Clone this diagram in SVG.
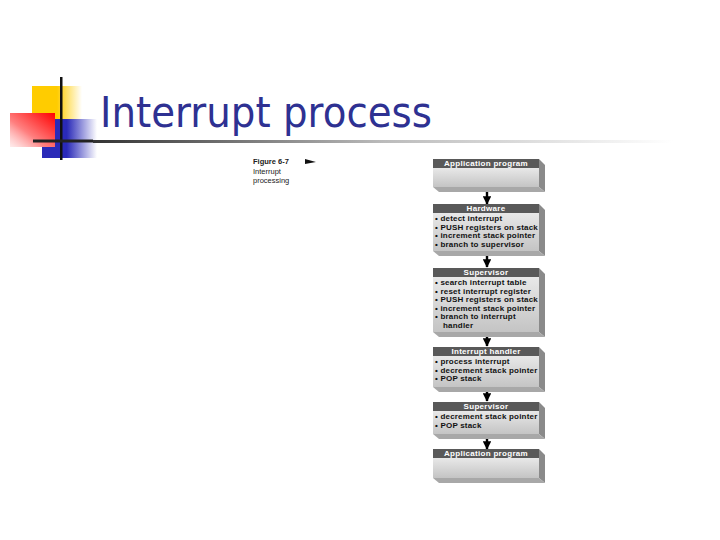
<svg xmlns="http://www.w3.org/2000/svg" width="720" height="540" viewBox="0 0 720 540">
<defs>
<linearGradient id="yel" x1="0" y1="0" x2="1" y2="0"><stop offset="0" stop-color="#ffcc00"/><stop offset="0.5" stop-color="#ffcc00"/><stop offset="1" stop-color="#ffcc00" stop-opacity="0"/></linearGradient>
<linearGradient id="blu" x1="0" y1="0" x2="1" y2="0"><stop offset="0" stop-color="#2a2ab8"/><stop offset="0.45" stop-color="#2a2ab8"/><stop offset="1" stop-color="#2a2ab8" stop-opacity="0"/></linearGradient>
<linearGradient id="red" x1="1" y1="0" x2="0" y2="1"><stop offset="0" stop-color="#ff0000"/><stop offset="0.6" stop-color="#ff8080"/><stop offset="1" stop-color="#ffe0e0" stop-opacity="0.6"/></linearGradient>
<linearGradient id="rule" x1="0" y1="0" x2="1" y2="0"><stop offset="0" stop-color="#333333"/><stop offset="0.5" stop-color="#bbbbbb"/><stop offset="1" stop-color="#ffffff"/></linearGradient>
<linearGradient id="body" x1="0" y1="0" x2="0" y2="1"><stop offset="0" stop-color="#e8e8e8"/><stop offset="1" stop-color="#c4c4c4"/></linearGradient>
<marker id="ah" viewBox="0 0 10 10" refX="9" refY="5" markerWidth="3.6" markerHeight="3.6" orient="auto"><path d="M0,0 L10,5 L0,10 z" fill="#000"/></marker>
</defs>
<style>
.title{font-family:"DejaVu Sans",sans-serif;font-size:42px;fill:#2e3192}
.hdr{fill:#595959}
.side{fill:#8a8a8a}
.bot{fill:#a8a8a8}
.body{fill:url(#body)}
.ht{font-family:"Liberation Sans",Arial,sans-serif;font-weight:bold;font-size:8px;letter-spacing:0.3px;fill:#fff;text-anchor:middle}
.bt{font-family:"Liberation Sans",Arial,sans-serif;font-weight:bold;font-size:8px;letter-spacing:0.2px;fill:#111}
.cap{font-family:"Liberation Sans",Arial,sans-serif;font-size:7.5px;fill:#222}
.conn line{stroke:#000;stroke-width:2.4}
</style>
<g id="logo">
<rect x="32" y="86" width="50" height="33" fill="url(#yel)"/>
<rect x="42" y="119" width="55" height="39" fill="url(#blu)"/>
<rect x="10" y="113" width="45" height="34" fill="url(#red)"/>
<rect x="60" y="77" width="2.5" height="83" fill="#111"/>
<rect x="33" y="139.5" width="60" height="3" fill="#222"/>
<rect x="93" y="140" width="580" height="3" fill="url(#rule)"/>
</g>
<text class="title" x="100" y="127" textLength="332" lengthAdjust="spacingAndGlyphs">Interrupt process</text>
<g id="caption">
<text class="cap" x="253" y="164" font-weight="bold">Figure 6-7</text>
<path d="M305,159 L316,162 L305,164 z" fill="#111"/>
<text class="cap" x="253" y="174">Interrupt</text>
<text class="cap" x="253" y="183">processing</text>
</g>
<g class="conn" id="connectors">
<line x1="487" y1="188" x2="487" y2="204" marker-end="url(#ah)"/>
<line x1="487" y1="252" x2="487" y2="267" marker-end="url(#ah)"/>
<line x1="487" y1="333" x2="487" y2="346" marker-end="url(#ah)"/>
<line x1="487" y1="388" x2="487" y2="401" marker-end="url(#ah)"/>
<line x1="487" y1="435" x2="487" y2="449" marker-end="url(#ah)"/>
</g>
<g id="n1">
<path class="side" d="M539,159 L545,165 L545,192 L539,187 z"/>
<path class="bot" d="M433,187 L539,187 L545,192 L439,192 z"/>
<rect class="body" x="433" y="168" width="106" height="19"/>
<rect class="hdr" x="433" y="159" width="106" height="9"/>
<text class="ht" x="486" y="166.2">Application program</text>
</g>
<g id="n2">
<path class="side" d="M539,204 L545,210 L545,256 L539,251 z"/>
<path class="bot" d="M433,251 L539,251 L545,256 L439,256 z"/>
<rect class="body" x="433" y="213" width="106" height="38"/>
<rect class="hdr" x="433" y="204" width="106" height="9"/>
<text class="ht" x="486" y="211.2">Hardware</text>
<text class="bt" x="435" y="221">• detect interrupt</text>
<text class="bt" x="435" y="229.5">• PUSH registers on stack</text>
<text class="bt" x="435" y="238">• increment stack pointer</text>
<text class="bt" x="435" y="246.5">• branch to supervisor</text>
</g>
<g id="n3">
<path class="side" d="M539,268 L545,274 L545,337 L539,332 z"/>
<path class="bot" d="M433,332 L539,332 L545,337 L439,337 z"/>
<rect class="body" x="433" y="277" width="106" height="55"/>
<rect class="hdr" x="433" y="268" width="106" height="9"/>
<text class="ht" x="486" y="275.2">Supervisor</text>
<text class="bt" x="435" y="285">• search interrupt table</text>
<text class="bt" x="435" y="293.5">• reset interrupt register</text>
<text class="bt" x="435" y="302">• PUSH registers on stack</text>
<text class="bt" x="435" y="310.5">• increment stack pointer</text>
<text class="bt" x="435" y="319">• branch to interrupt</text>
<text class="bt" x="443" y="327.5">handler</text>
</g>
<g id="n4">
<path class="side" d="M539,347 L545,353 L545,392 L539,387 z"/>
<path class="bot" d="M433,387 L539,387 L545,392 L439,392 z"/>
<rect class="body" x="433" y="356" width="106" height="31"/>
<rect class="hdr" x="433" y="347" width="106" height="9"/>
<text class="ht" x="486" y="354.2">Interrupt handler</text>
<text class="bt" x="435" y="364">• process interrupt</text>
<text class="bt" x="435" y="372.5">• decrement stack pointer</text>
<text class="bt" x="435" y="381">• POP stack</text>
</g>
<g id="n5">
<path class="side" d="M539,402 L545,408 L545,439 L539,434 z"/>
<path class="bot" d="M433,434 L539,434 L545,439 L439,439 z"/>
<rect class="body" x="433" y="411" width="106" height="23"/>
<rect class="hdr" x="433" y="402" width="106" height="9"/>
<text class="ht" x="486" y="409.2">Supervisor</text>
<text class="bt" x="435" y="419">• decrement stack pointer</text>
<text class="bt" x="435" y="427.5">• POP stack</text>
</g>
<g id="n6">
<path class="side" d="M539,449 L545,455 L545,483 L539,478 z"/>
<path class="bot" d="M433,478 L539,478 L545,483 L439,483 z"/>
<rect class="body" x="433" y="458" width="106" height="20"/>
<rect class="hdr" x="433" y="449" width="106" height="9"/>
<text class="ht" x="486" y="456.2">Application program</text>
</g>
</svg>
